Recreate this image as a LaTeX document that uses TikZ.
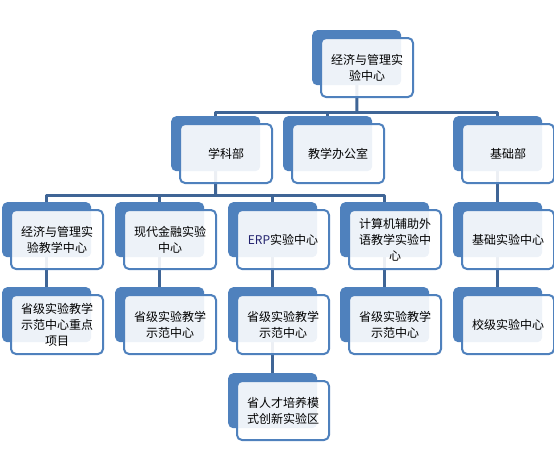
\documentclass[tikz,border=0pt]{standalone}
\usepackage{fontspec}
\setmainfont{Noto Sans CJK SC}
\usetikzlibrary{calc}
\definecolor{bbl}{HTML}{4F81BD}
\definecolor{lnc}{HTML}{3F6596}
\definecolor{erp}{HTML}{22226E}
\tikzset{
  backbox/.style={fill=bbl, draw=none, rounded corners=5pt, minimum width=89pt, minimum height=55pt, anchor=north west, inner sep=0pt},
  frontbox/.style={fill=white, fill opacity=0.9, text opacity=1, draw=bbl, line width=2pt, rounded corners=5pt,
    minimum width=92pt, minimum height=59pt, anchor=north west, inner xsep=3pt, inner ysep=2pt,
    text width=86pt, align=center, font=\fontsize{12}{16}\selectfont},
  anchorbox/.style={minimum width=89pt, minimum height=55pt, anchor=north west, inner sep=0pt},
  conn/.style={draw=lnc, line width=3pt, line join=round}
}
\newcommand{\orgbox}[4]{%
  \node[backbox] (#1) at (#2pt,-#3pt) {};
  \node[frontbox] (#1f) at ($(#1.north west)+(8pt,-7pt)$) {#4};
}
\begin{document}
\begin{tikzpicture}[x=1pt,y=1pt]
\useasboundingbox (0,0) rectangle (554,-469);
% invisible placement nodes for connectors
\foreach \n/\x/\y in {top/312/30, xk/171/116, js/283/116, jc/453/116,
  ra/2/202, rb/115/202, rc/228/202, rd/340/202, re/453/202,
  sa/2/287, sb/115/287, sc/228/287, sd/340/287, se/453/287, tc/228/373}
  {\node[anchorbox] (\n) at (\x,-\y) {};}
\coordinate (bus1) at (357,-112);
\coordinate (bus2) at (215.5,-195);
% connectors
\draw[conn] (top.center) -- (bus1);
\draw[conn] (xk.center) |- (bus1) -| (jc.center);
\draw[conn] (js.center) -- (js.center |- bus1);
\draw[conn] (xk.center) -- (bus2);
\draw[conn] (ra.center) |- (bus2) -| (rd.center);
\draw[conn] (rb.center) -- (rb.center |- bus2);
\draw[conn] (rc.center) -- (rc.center |- bus2);
\draw[conn] (jc.center) -- (re.center);
\draw[conn] (ra.center) -- (sa.center);
\draw[conn] (rb.center) -- (sb.center);
\draw[conn] (rc.center) -- (sc.center);
\draw[conn] (rd.center) -- (sd.center);
\draw[conn] (re.center) -- (se.center);
\draw[conn] (sc.center) -- (tc.center);
% boxes
\orgbox{Btop}{312}{30}{经济与管理实\\验中心}
\orgbox{Bxk}{171}{116}{学科部}
\orgbox{Bjs}{283}{116}{教学办公室}
\orgbox{Bjc}{453}{116}{基础部}
\orgbox{Bra}{2}{202}{经济与管理实\\验教学中心}
\orgbox{Brb}{115}{202}{现代金融实验\\中心}
\orgbox{Brc}{228}{202}{\textcolor{erp}{ERP}实验中心}
\orgbox{Brd}{340}{202}{计算机辅助外\\语教学实验中\\心}
\orgbox{Bre}{453}{202}{基础实验中心}
\orgbox{Bsa}{2}{287}{省级实验教学\\示范中心重点\\项目}
\orgbox{Bsb}{115}{287}{省级实验教学\\示范中心}
\orgbox{Bsc}{228}{287}{省级实验教学\\示范中心}
\orgbox{Bsd}{340}{287}{省级实验教学\\示范中心}
\orgbox{Bse}{453}{287}{校级实验中心}
\orgbox{Btc}{228}{373}{省人才培养模\\式创新实验区}
\end{tikzpicture}
\end{document}
